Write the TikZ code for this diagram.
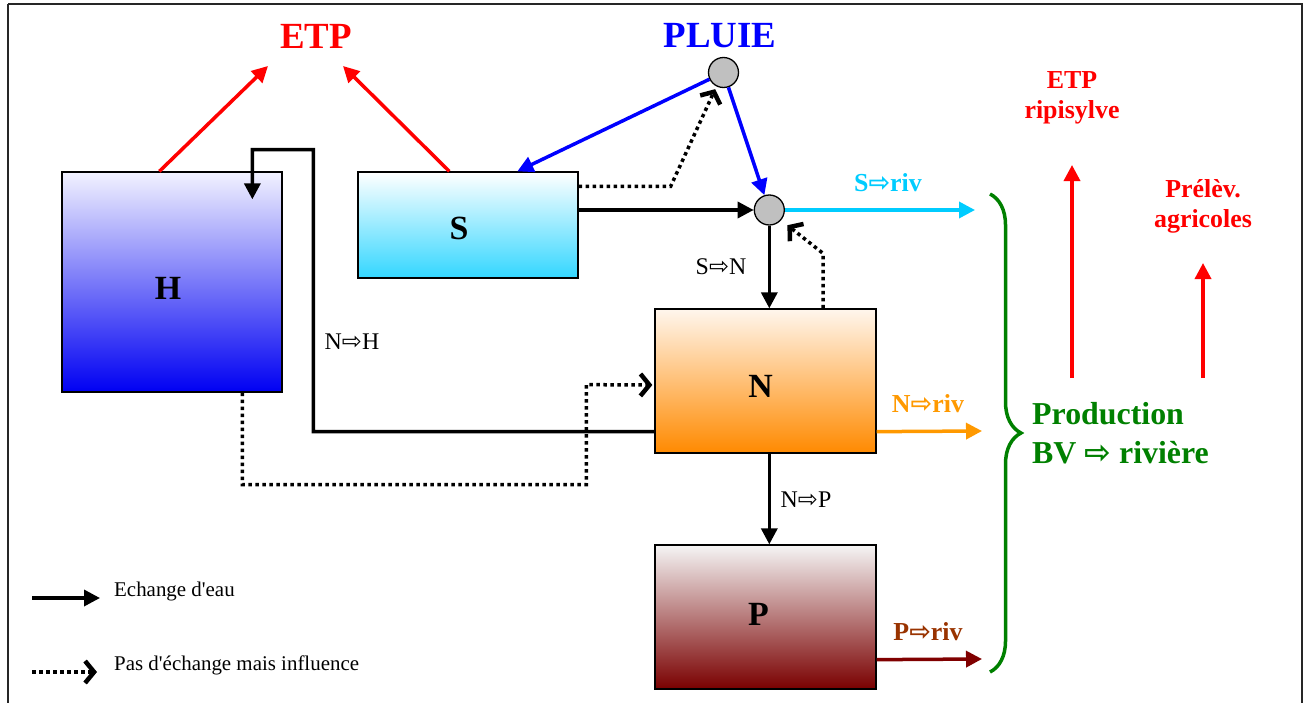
\documentclass[tikz,border=0pt]{standalone}
\usepackage{fontspec}
\setmainfont{Liberation Serif}[Ligatures=TeXOff]
\newfontfamily\symf{DejaVu Sans}
\usetikzlibrary{arrows.meta,decorations.pathreplacing,calc}
\definecolor{myred}{HTML}{FF0000}
\definecolor{myblue}{HTML}{0000FF}
\definecolor{mycyan}{HTML}{00CCFF}
\definecolor{myorange}{HTML}{FF9900}
\definecolor{mydred}{HTML}{800000}
\definecolor{mybrown}{HTML}{993300}
\definecolor{mygreen}{HTML}{008000}
\definecolor{mygray}{HTML}{C0C0C0}
\newcommand{\ar}{{\symf\char"21E8}}
\tikzset{
  box/.style={draw=black,line width=1.3bp,minimum width=220bp,inner sep=0pt},
  boxlab/.style={font=\bfseries\fontsize{34}{36}\selectfont,inner sep=0pt},
  junct/.style={circle,draw=black,line width=1.3bp,fill=mygray,minimum size=30bp,inner sep=0pt},
  flow/.style={line width=3.5bp,-{Triangle[length=16bp,width=16bp]}},
  infl/.style={line width=3.5bp,dash pattern=on 3.5bp off 3.5bp,-{Straight Barb[length=9bp,width=22bp,line width=4.5bp]}},
  colarr/.style={line width=3.5bp,draw=#1,-{Triangle[length=16bp,width=16bp,fill=#1]}},
  smlab/.style={font=\fontsize{24}{26}\selectfont,inner sep=0pt},
  collab/.style={font=\bfseries\fontsize{26}{28}\selectfont,text=#1,inner sep=0pt},
  title/.style={font=\bfseries\fontsize{37}{40}\selectfont,text=#1,inner sep=0pt},
  redlab/.style={font=\bfseries\fontsize{26}{30}\selectfont,text=myred,align=center,inner sep=0pt},
  leglab/.style={font=\fontsize{21}{23}\selectfont,inner sep=0pt,anchor=west},
}
\begin{document}
\begin{tikzpicture}[x=1bp,y=-1bp]
\useasboundingbox (0,0) rectangle (1306,702);
\draw[line width=1.5bp,draw=black!85] (8,4) -- (1302,4) -- (1302,712) (8,4) -- (8,712);

% boxes
\node[box,minimum height=220bp,top color=white!95!blue,bottom color=blue!95!black] (H) at (172,282) {};
\node[box,minimum height=106bp,top color=white,bottom color=mycyan!80!white] (S) at (468,225) {};
\node[box,minimum width=221bp,minimum height=144bp,top color=white!93!orange,bottom color=myorange!90!red!100] (N) at (765.5,381) {};
\node[box,minimum width=221bp,minimum height=144bp,top color=white!96!black,bottom color=mydred!95!black] (P) at (765.5,617) {};
\node[boxlab] (Hl) at ([xshift=-4bp,yshift=-6bp]H.center) {H};
\node[boxlab] (Sl) at ([xshift=-9bp,yshift=-3bp]S.center) {S};
\node[boxlab] (Nl) at ([xshift=-5bp,yshift=-5bp]N.center) {N};
\node[boxlab] (Pl) at ([xshift=-7bp,yshift=3bp]P.center) {P};

% circles
\node[junct] (rain) at (723.5,72.5) {};
\node[junct] (junc) at (769.3,210) {};

% titles
\node[title=myred] (etp) at (316,36) {ETP};
\node[title=myblue] (pluie) at (720,36) {PLUIE};
\coordinate (etpL) at (268,66);
\coordinate (etpR) at (343,66);
\draw[colarr=myred] ([xshift=98bp]H.north west) -- (etpL);
\draw[colarr=myred] ([xshift=92bp]S.north west) -- (etpR);

% rain
\draw[colarr=myblue] (rain) -- ([xshift=160bp]S.north west);
\draw[colarr=myblue] (rain) -- (junc);
\draw[infl,shorten >=3bp] ([yshift=-15bp]S.north east) -- ++(92,0) -- (rain.243);

% S to junction
\draw[flow] (S.east |- junc) -- (junc);
\draw[flow] (junc) -- (junc |- N.north);
\node[smlab] (lsn) at (721,267) {S\ar N};
\draw[infl,shorten >=8bp] ([xshift=57.5bp]N.north) -- ++(0,-55) -- (junc.-41);

% S riv
\coordinate (sriv) at (975,210);
\draw[colarr=mycyan] (junc) -- (sriv);
\node[collab=mycyan] (lsriv) at (888,183) {S\ar riv};

% N to H
\draw[flow] ([yshift=22bp]N.south west) -- ++(-341,0) -- ++(0,-282) -- ++(-61,0) -- ([xshift=191bp,yshift=-28bp]H.north west);
\node[smlab] (lnh) at (352,342) {N\ar H};

% H influence N
\draw[infl,shorten >=2bp] ([xshift=181bp]H.south west) -- ++(0,92) -- ++(344,0) -- ++(0,-100) -- ([yshift=-4bp]N.west);

% N to P
\draw[flow] (N.south -| junc) -- (P.north -| junc);
\node[smlab] (lnp) at (806,500) {N\ar P};

% N riv, P riv
\coordinate (nriv) at (982,431);
\coordinate (priv) at (982,659);
\draw[colarr=myorange] ([yshift=22bp]N.south east) -- (nriv);
\node[collab=myorange] (lnriv) at (928,404) {N\ar riv};
\draw[colarr=mydred] ([yshift=30bp]P.south east) -- (priv);
\node[collab=mybrown] (lpriv) at (928,632) {P\ar riv};

% brace
\draw[mygreen,line width=3.5bp,decorate,decoration={brace,amplitude=31bp}] (990,194) -- (990,672);
\node[font=\bfseries\fontsize{32}{39}\selectfont,text=mygreen,align=left,anchor=west,inner sep=0pt] (prod) at (1032,433) {Production\\BV \ar{} rivière};

% right red labels
\node[redlab] (etpr) at (1072,98) {ETP\\ripisylve};
\node[redlab] (prel) at (1203,206) {Prélèv.\\agricoles};
\coordinate (a1s) at (1072,378);
\coordinate (a1e) at (1072,165);
\coordinate (a2s) at (1203,378);
\coordinate (a2e) at (1203,263);
\draw[colarr=myred] (a1s) -- (a1e);
\draw[colarr=myred] (a2s) -- (a2e);

% legend
\coordinate (l1s) at (32,598);
\coordinate (l1e) at (100,598);
\coordinate (l2s) at (32,672);
\coordinate (l2e) at (97,672);
\draw[flow] (l1s) -- (l1e);
\draw[infl] (l2s) -- (l2e);
\node[leglab] (leg1) at (114,591) {Echange d'eau};
\node[leglab] (leg2) at (114,665) {Pas d'échange mais influence};
\end{tikzpicture}
\end{document}
